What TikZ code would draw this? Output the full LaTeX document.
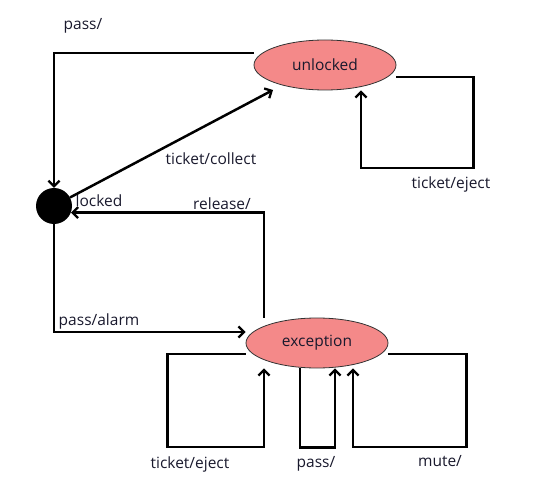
\documentclass[tikz,border=0pt]{standalone}
\usepackage{fontspec}
\setmainfont{Open Sans}
\usetikzlibrary{arrows.meta,calc,shapes.geometric}
\definecolor{statefill}{RGB}{244,137,137}
\definecolor{txt}{RGB}{25,25,45}
\begin{document}
\begin{tikzpicture}[x=1pt,y=-1pt,
  every node/.style={font=\fontsize{15.5}{17}\selectfont, text=txt, inner sep=0pt},
  statebox/.style={ellipse, draw=black!80, line width=0.8pt, fill=statefill, minimum width=142, minimum height=50},
  arr/.style={line width=2.5pt, -{Straight Barb[length=5.5pt,width=11pt,line width=2.3pt]}}]
\useasboundingbox (0,0) rectangle (544,484);
\node[circle, fill=black, minimum size=36] (lk) at (54,206) {};
\node[statebox] (unl) at (325,65) {unlocked};
\node[statebox] (exc) at (317,343) {exception};
% labels
\node (llk) at (99,201) {locked};
\node (lpass) at (83,26) {pass/};
\node (lcol) at (211,159) {ticket/collect};
\node (lej1) at (451,184) {ticket/eject};
\node (lrel) at (222,204) {release/};
\node (lalarm) at (99,321) {pass/alarm};
\node (lej2) at (190,464) {ticket/eject};
\node (lpass2) at (316,464) {pass/};
\node (lmute) at (440,461) {mute/};
% connectors
\draw[arr] ([yshift=12]unl.west) -| (lk.north);
\draw[arr] (lk.28) -- ($(unl.center)+(-52,25)$);
\draw[arr] ([yshift=-12]unl.east) -- ++(77,0) -- ++(0,91) -| ([xshift=36]unl.south);
\draw[arr] ([xshift=-53]exc.north) |- (lk.-21);
\draw[arr] (lk.south) |- ([yshift=11]exc.west);
\draw[arr] ([yshift=-11]exc.west) -- ++(-78,0) -- ++(0,93) -| ([xshift=-53]exc.south);
\draw[arr] ([xshift=-17]exc.south) -- ++(0,79) -| ([xshift=18]exc.south);
\draw[arr] ([yshift=-11]exc.east) -- ++(78,0) -- ++(0,93) -| ([xshift=36]exc.south);
\end{tikzpicture}
\end{document}
